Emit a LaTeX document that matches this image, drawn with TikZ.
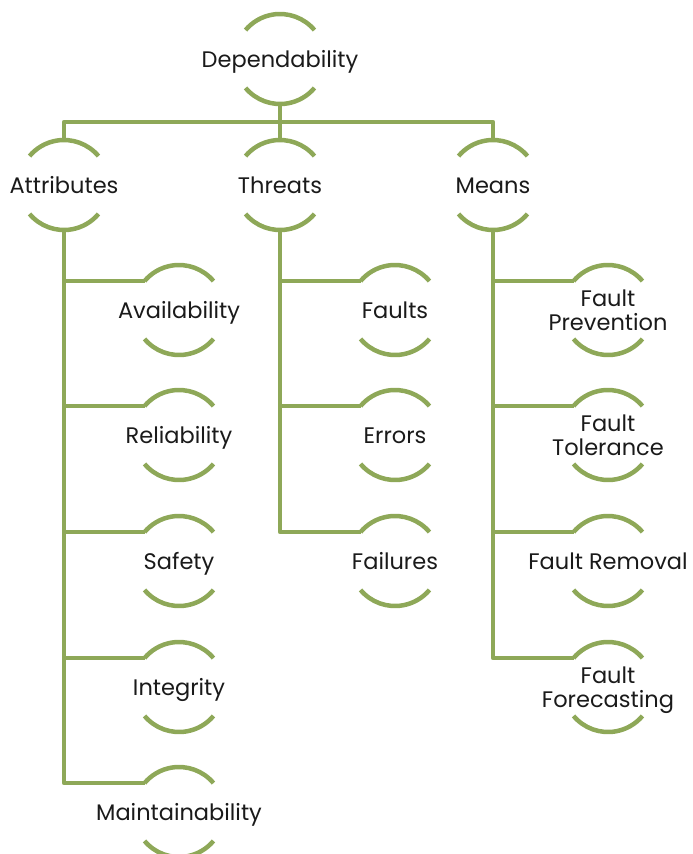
\documentclass[tikz,border=0pt]{standalone}
\usepackage{fontspec}
\setmainfont{Poppins}
\usetikzlibrary{calc}
\definecolor{leaf}{HTML}{8EA858}
\definecolor{ink}{HTML}{1A1A1A}
\begin{document}
\begin{tikzpicture}[x=1pt,y=1pt,
  lbl/.style={font=\fontsize{22.5}{24}\selectfont, text=ink, align=center,
              inner sep=0pt, text height=16pt, text depth=0pt},
  lbltwo/.style={font=\fontsize{22.5}{24}\selectfont, text=ink, align=center,
              inner sep=0pt, text depth=0pt},
  link/.style={draw=leaf, line width=4.5pt, line join=round},
  ring/.style={draw=leaf, line width=4.5pt}]
\useasboundingbox (0,0) rectangle (693,-854);

% labels
\node[lbl] (dep)   at (280,-59)  {Dependability};
\node[lbl] (attr)  at (64,-185)  {Attributes};
\node[lbl] (thr)   at (280,-185) {Threats};
\node[lbl] (means) at (493,-185) {Means};

\node[lbl] (avail) at (179,-310) {Availability};
\node[lbl] (rel)   at (179,-435) {Reliability};
\node[lbl] (saf)   at (179,-561) {Safety};
\node[lbl] (integ) at (179,-687) {Integrity};
\node[lbl] (maint) at (179,-812) {Maintainability};

\node[lbl] (flt)   at (395,-310) {Faults};
\node[lbl] (err)   at (395,-435) {Errors};
\node[lbl] (fail)  at (395,-561) {Failures};

\node[lbltwo] (prev)  at (608,-310) {Fault\\Prevention};
\node[lbltwo] (tol)   at (608,-435) {Fault\\Tolerance};
\node[lbl]    (rem)   at (608,-561) {Fault Removal};
\node[lbltwo] (fore)  at (608,-687) {Fault\\Forecasting};

% open rings above and below every label
\foreach \n in {dep,attr,thr,means,avail,rel,saf,integ,maint,flt,err,fail,prev,tol,rem,fore}{
  \draw[ring] ($(\n)+(40:45)$) arc (40:140:45);
  \draw[ring] ($(\n)+(220:45)$) arc (220:320:45);
}

% top level
\draw[link] ($(dep)+(0,-45)$) -- ($(dep)+(0,-63)$);
\draw[link] ($(attr)+(0,45)$) -- ($(attr)+(0,63)$) -| ($(means)+(0,45)$);
\draw[link] ($(thr)+(0,45)$) -- ($(thr)+(0,63)$);

% branches
\foreach \c in {avail,rel,saf,integ,maint}
  \draw[link] ($(attr)+(0,-45)$) |- ($(\c)+(140:45)$);
\foreach \c in {flt,err,fail}
  \draw[link] ($(thr)+(0,-45)$) |- ($(\c)+(140:45)$);
\foreach \c in {prev,tol,rem,fore}
  \draw[link] ($(means)+(0,-45)$) |- ($(\c)+(140:45)$);
\end{tikzpicture}
\end{document}
